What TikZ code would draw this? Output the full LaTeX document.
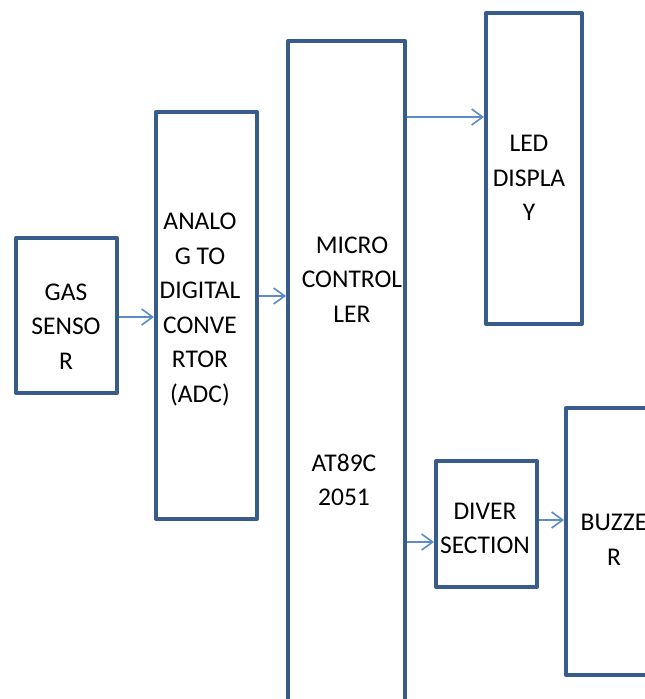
\documentclass[tikz,border=0pt]{standalone}
\usepackage{fontspec}
\setmainfont{Carlito}
\usetikzlibrary{arrows.meta}
\definecolor{boxblue}{HTML}{385D8A}
\definecolor{arrblue}{HTML}{5B8BC9}
\begin{document}
\begin{tikzpicture}[x=1pt,y=-1pt,
  blk/.style={draw=boxblue,line width=4pt,line join=round,rectangle,inner sep=0pt},
  txt/.style={align=center,inner sep=0pt,font=\fontsize{25.5}{34.5}\selectfont},
  arr/.style={draw=arrblue,line width=1.6pt,-{Straight Barb[length=11pt,width=16pt,line width=1.6pt]}}]
\useasboundingbox (0,0) rectangle (645,699);
\clip (0,0) rectangle (645,699);
\node[blk,minimum width=101pt,minimum height=155pt] (gas) at (66.5,315.5) {};
\node[blk,minimum width=101pt,minimum height=407pt] (adc) at (206.5,315.5) {};
\node[blk,minimum width=117pt,minimum height=719pt] (mc) at (346.5,400.5) {};
\node[blk,minimum width=96pt,minimum height=311pt] (led) at (534,168.5) {};
\node[blk,minimum width=101pt,minimum height=126pt] (div) at (486.5,524) {};
\node[blk,minimum width=100pt,minimum height=267pt] (buz) at (616,541.5) {};
\node[txt] (gast) at (66,326.5) {GAS\\SENSO\\R};
\node[txt] (adct) at (200,309.5) {ANALO\\G TO\\DIGITAL\\CONVE\\RTOR\\(ADC)};
\node[txt] (mct1) at (352,279.5) {MICRO\\CONTROL\\LER};
\node[txt] (mct2) at (344,480) {AT89C\\2051};
\node[txt] (ledt) at (529,178) {LED\\DISPLA\\Y};
\node[txt] (divt) at (485,528.5) {DIVER\\SECTION};
\node[txt] (buzt) at (614,540) {BUZZE\\R};
\coordinate (y1) at (0,317);
\coordinate (y2) at (0,296);
\coordinate (y3) at (0,117);
\coordinate (y4) at (0,542);
\coordinate (y5) at (0,520);
\draw[arr] (gas.east |- y1) -- (adc.west |- y1);
\draw[arr] (adc.east |- y2) -- (mc.west |- y2);
\draw[arr] (mc.east |- y3) -- (led.west |- y3);
\draw[arr] (mc.east |- y4) -- (div.west |- y4);
\draw[arr] (div.east |- y5) -- (buz.west |- y5);
\end{tikzpicture}
\end{document}
